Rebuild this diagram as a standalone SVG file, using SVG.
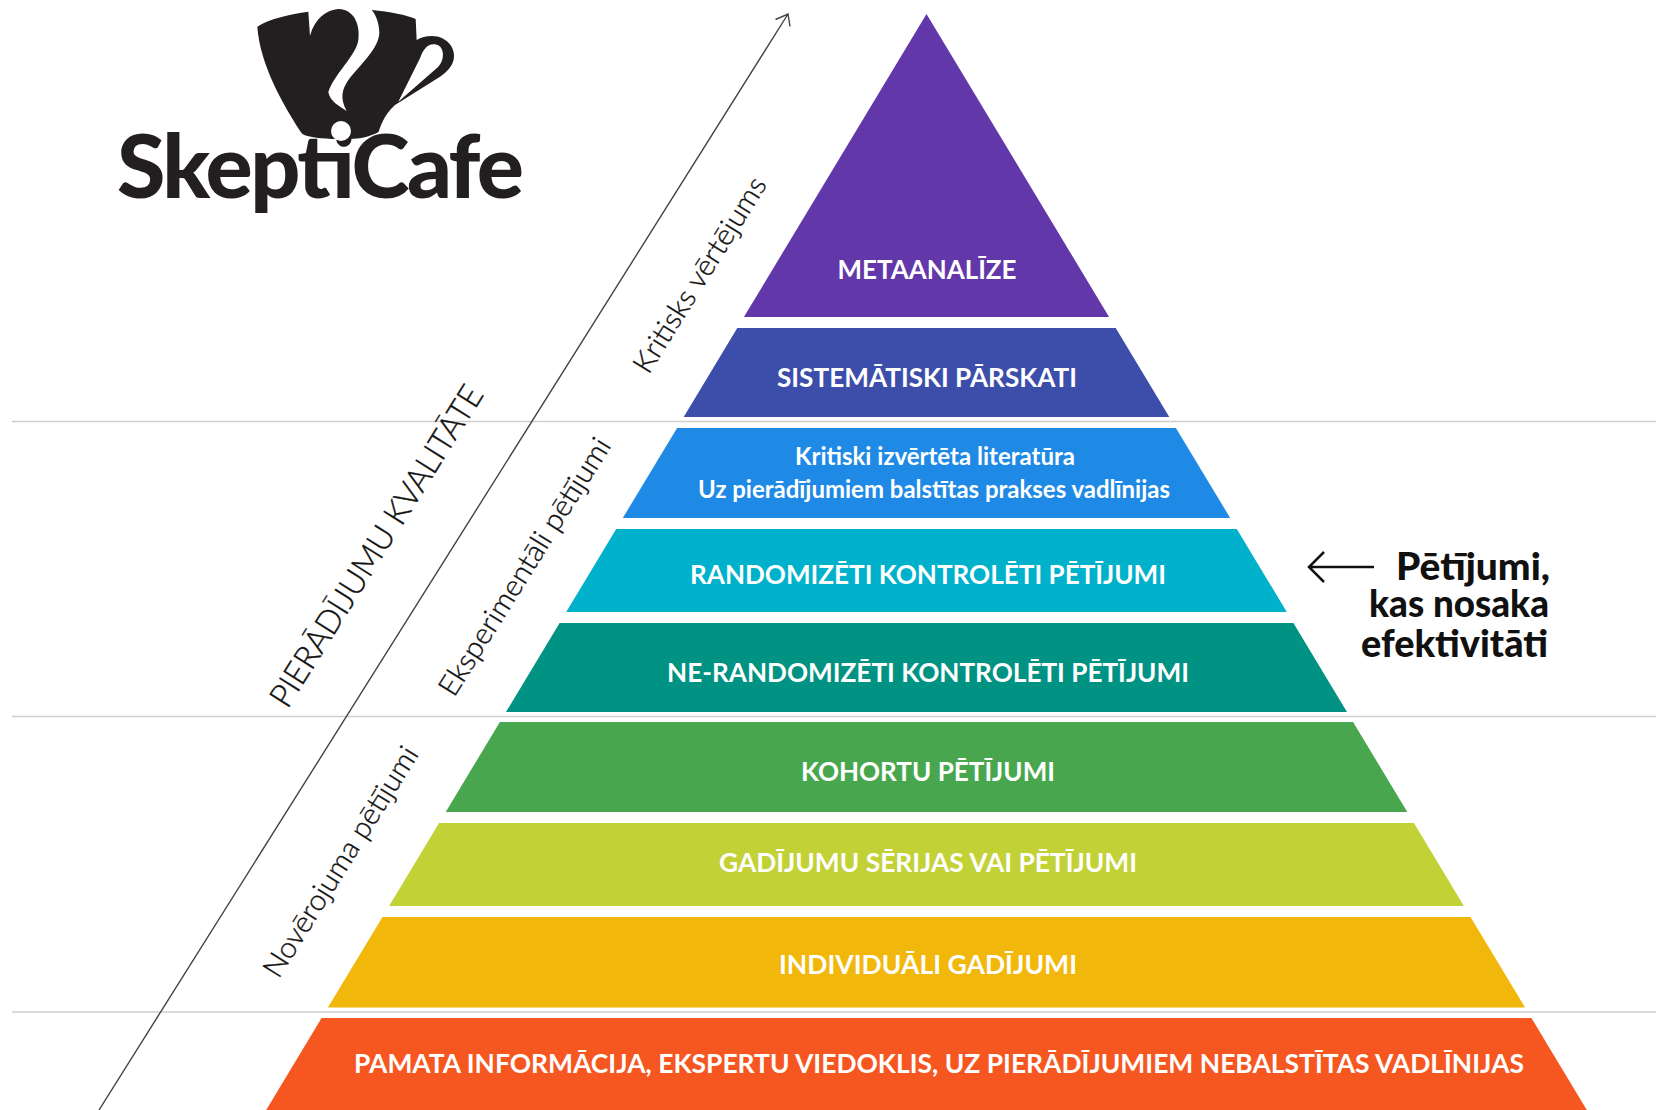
<svg xmlns="http://www.w3.org/2000/svg" width="1656" height="1110" viewBox="0 0 1656 1110">
<style>
.lbl{font-family:"Lato","Liberation Sans",sans-serif;font-weight:700;fill:#fff;text-anchor:middle;font-size:27px}
.side{font-family:"Lato","Liberation Sans",sans-serif;font-weight:300;fill:#111;stroke:#111;stroke-width:.35;text-anchor:middle;font-size:29px}
.eff{font-family:"Lato","Liberation Sans",sans-serif;font-weight:900;fill:#111;text-anchor:end;font-size:38px}
.rule{stroke:#cfcfcf;stroke-width:1.5;fill:none}
</style>
<rect width="1656" height="1110" fill="#fff"/>
<g id="rules">
<line class="rule" x1="12" y1="421.5" x2="1656" y2="421.5"/>
<line class="rule" x1="12" y1="716.5" x2="1656" y2="716.5"/>
<line class="rule" x1="12" y1="1012" x2="1656" y2="1012"/>
</g>
<g id="connectors" fill="none">
<path d="M99 1110L788 14M775.5 19.500L788 14L790 26.500" stroke="#444" stroke-width="1.400"/>
<path d="M1374 567H1309M1324 552L1309 567L1324 582" stroke="#111" stroke-width="2.500"/>
</g>
<g id="logo">
<path transform="translate(250 5) scale(.33333)" fill="#231f20" fill-rule="evenodd" d="M22 65C60 40 120 28 175 20L180 92C195 40 230 14 265 12C320 14 330 70 325 105C320 150 250 210 235 262C240 290 270 305 290 318C270 280 275 255 295 225C340 170 385 130 388 85C388 55 378 30 365 15C420 20 470 30 497 42L500 105C530 88 580 85 605 125C625 165 600 195 570 215L435 300C400 330 390 370 385 382C360 395 330 402 300 402L245 402C200 400 165 395 155 385C100 300 30 180 22 65ZM510 160C520 130 535 115 555 118C585 122 585 165 565 185L445 290Z"/>
<text x="117" y="198" font-family="'Lato','Liberation Sans',sans-serif" font-weight="900" font-size="88" fill="#231f20" textLength="407" lengthAdjust="spacing">SkeptiCafe</text>
<circle cx="341" cy="131" r="10" fill="#fff"/>
</g>
<g id="metaanalize"><polygon points="926.500,14 1109.100,317 743.900,317" fill="#6237aa"/><text class="lbl" x="927" y="279" textLength="179" lengthAdjust="spacingAndGlyphs">METAANALĪZE</text></g>
<g id="sistematiski"><polygon points="737.300,328 1115.700,328 1169.300,417 683.700,417" fill="#3c4eaa"/><text class="lbl" x="927" y="387" textLength="300" lengthAdjust="spacingAndGlyphs">SISTEMĀTISKI PĀRSKATI</text></g>
<g id="kritiski"><polygon points="677.100,428 1175.900,428 1230.200,518 622.800,518" fill="#1f8ae6"/>
<text class="lbl" x="935" y="465" textLength="280" lengthAdjust="spacingAndGlyphs" style="font-size:25px">Kritiski izvērtēta literatūra</text>
<text class="lbl" x="934" y="498" textLength="472" lengthAdjust="spacingAndGlyphs" style="font-size:25px">Uz pierādījumiem balstītas prakses vadlīnijas</text></g>
<g id="randomizeti"><polygon points="616.200,529 1236.800,529 1286.800,612 566.200,612" fill="#00b1cb"/><text class="lbl" x="928" y="584" textLength="476" lengthAdjust="spacingAndGlyphs">RANDOMIZĒTI KONTROLĒTI PĒTĪJUMI</text></g>
<g id="nerandomizeti"><polygon points="559.600,623 1293.400,623 1347,712 506,712" fill="#009282"/><text class="lbl" x="928" y="682" textLength="522" lengthAdjust="spacingAndGlyphs">NE-RANDOMIZĒTI KONTROLĒTI PĒTĪJUMI</text></g>
<g id="kohortu"><polygon points="499.900,722 1353.100,722 1407.300,812 445.700,812" fill="#48a74e"/><text class="lbl" x="928" y="781" textLength="254" lengthAdjust="spacingAndGlyphs">KOHORTU PĒTĪJUMI</text></g>
<g id="gadijumu"><polygon points="439.100,823 1413.900,823 1463.900,906 389.100,906" fill="#c2d136"/><text class="lbl" x="928" y="872" textLength="418" lengthAdjust="spacingAndGlyphs">GADĪJUMU SĒRIJAS VAI PĒTĪJUMI</text></g>
<g id="individuali"><polygon points="382.500,917 1470.500,917 1525.100,1007.500 327.900,1007.500" fill="#f2b70b"/><text class="lbl" x="928" y="974" textLength="298" lengthAdjust="spacingAndGlyphs">INDIVIDUĀLI GADĪJUMI</text></g>
<g id="pamata"><polygon points="321.600,1018 1531.400,1018 1586.800,1110 266.200,1110" fill="#f6561f"/><text class="lbl" x="939" y="1073" textLength="1170" lengthAdjust="spacingAndGlyphs">PAMATA INFORMĀCIJA, EKSPERTU VIEDOKLIS, UZ PIERĀDĪJUMIEM NEBALSTĪTAS VADLĪNIJAS</text></g>
<g id="side-labels">
<text class="side" transform="translate(386 552) rotate(-58)" style="font-size:33px" textLength="372" lengthAdjust="spacingAndGlyphs">PIERĀDĪJUMU KVALITĀTE</text>
<text class="side" transform="translate(708 280) rotate(-58)" textLength="225" lengthAdjust="spacingAndGlyphs">Kritisks vērtējums</text>
<text class="side" transform="translate(533 572) rotate(-58)" textLength="298" lengthAdjust="spacingAndGlyphs">Eksperimentāli pētījumi</text>
<text class="side" transform="translate(349 867) rotate(-58)" textLength="266" lengthAdjust="spacingAndGlyphs">Novērojuma pētījumi</text>
</g>
<g id="efektivitate">
<text class="eff" x="1550" y="580" textLength="154" lengthAdjust="spacingAndGlyphs">Pētījumi,</text>
<text class="eff" x="1549" y="617" textLength="180" lengthAdjust="spacingAndGlyphs">kas nosaka</text>
<text class="eff" x="1548" y="657" textLength="187" lengthAdjust="spacingAndGlyphs">efektivitāti</text>
</g>
</svg>
